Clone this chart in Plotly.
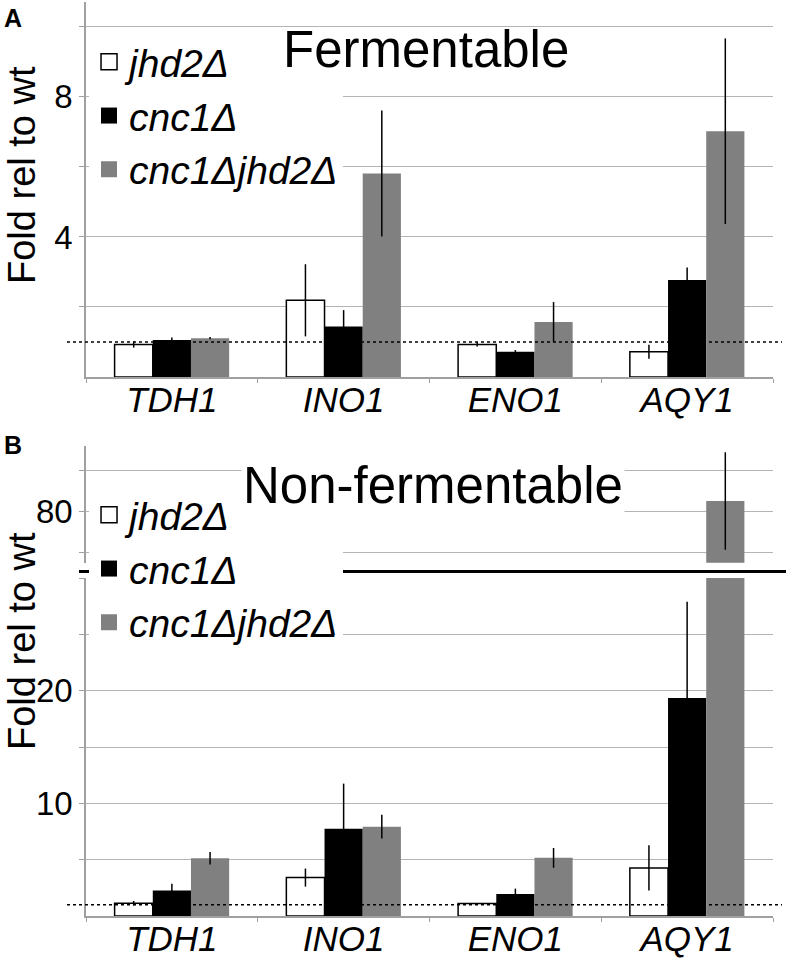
import plotly.graph_objects as go

genes = ["TDH1", "INO1", "ENO1", "AQY1"]
strains = ["jhd2Δ", "cnc1Δ", "cnc1Δjhd2Δ"]
colors = ["white", "black", "#808080"]

# Panel A: fermentable
ferm_vals = [
    [0.93, 2.19, 0.93, 0.72],
    [1.06, 1.44, 0.72, 2.77],
    [1.11, 5.81, 1.57, 7.02],
]
ferm_err = [
    [0.09, 1.03, 0.06, 0.20],
    [0.07, 0.47, 0.05, 0.36],
    [0.03, 1.80, 0.57, 2.65],
]

# Panel B: non-fermentable
nonferm_vals = [
    [1.13, 3.41, 1.10, 4.27],
    [2.26, 7.75, 1.96, 19.35],
    [5.13, 7.93, 5.16, 82.6],
]
nonferm_err = [
    [0.20, 0.80, 0.05, 2.00],
    [0.60, 4.00, 0.47, 8.55],
    [0.55, 1.05, 0.88, 11.9],
]

yA_ticks = [2, 4, 6, 8, 10]
yA_text = ["", "4", "", "8", ""]
yB_ticks = [5, 10, 15, 20, 25, 30]
yB_text = ["", "10", "", "20", "", ""]
yBu_ticks = [70, 80, 90]
yBu_text = ["", "80", ""]

FONT = "Liberation Sans, Arial, sans-serif"
GRID = "#b4b4b4"
AXC = "#a0a0a0"

fig = go.Figure()


def add_bars(vals, errs, xa, ya):
    for i in range(3):
        fig.add_trace(go.Bar(
            x=genes, y=vals[i], xaxis=xa, yaxis=ya, showlegend=False,
            marker=dict(color=colors[i],
                        line=dict(color="black" if i == 0 else colors[i], width=1.5 if i == 0 else 0)),
            error_y=dict(type="data", array=errs[i], color="black", thickness=1.5, width=0),
        ))


add_bars(ferm_vals, ferm_err, "x", "y")
add_bars(nonferm_vals, nonferm_err, "x2", "y2")
add_bars(nonferm_vals, nonferm_err, "x3", "y3")

# legend entries
for lg, xa, ya in [("legend", "x", "y"), ("legend2", "x2", "y2")]:
    for i in range(3):
        fig.add_trace(go.Scatter(
            x=[None], y=[None], xaxis=xa, yaxis=ya, mode="markers", name=strains[i],
            legend=lg,
            marker=dict(symbol="square", size=18, color=colors[i],
                        line=dict(color="black" if i == 0 else colors[i], width=1.5 if i == 0 else 0)),
        ))

H = 916.0


def py(px):
    return (H - px) / H


xcommon = dict(type="category", categoryorder="array", categoryarray=genes, automargin=False,
               showline=True, linecolor=AXC, linewidth=1.5, ticks="outside", tickson="boundaries",
               ticklen=4, tickcolor=AXC, showgrid=False, ticklabelstandoff=-9,
               tickfont=dict(family=FONT, size=35, color="black", style="italic"))
ycommon = dict(showgrid=True, gridcolor=GRID, gridwidth=1.2, showline=True, linecolor=AXC,
               linewidth=1.5, ticks="outside", ticklen=5, tickcolor=AXC, zeroline=False,
               automargin=False,
               tickfont=dict(family=FONT, size=33, color="black"), tickmode="array")

fig.update_layout(
    width=789, height=961, autosize=False,
    margin=dict(l=86, r=16, t=0, b=45, autoexpand=False),
    paper_bgcolor="white", plot_bgcolor="white",
    barmode="group", bargap=0.333, bargroupgap=0,
    font=dict(family=FONT, color="black"),
    xaxis=dict(domain=[0, 1], anchor="y", **xcommon),
    yaxis=dict(domain=[py(377), py(2)], range=[0, 10.71], tickvals=yA_ticks, ticktext=yA_text, **ycommon),
    xaxis2=dict(domain=[0, 1], anchor="y2", **xcommon),
    yaxis2=dict(domain=[0, py(578)], range=[0, 30], tickvals=yB_ticks, ticktext=yB_text, **ycommon),
    xaxis3=dict(domain=[0, 1], anchor="y3", type="category", categoryorder="array",
                categoryarray=genes, visible=False, automargin=False),
    yaxis3=dict(domain=[py(562.7), py(446)], range=[67.56, 96], tickvals=yBu_ticks, ticktext=yBu_text,
                **ycommon),
    legend=dict(x=0.0044, xanchor="left", y=py(30), yanchor="top", bgcolor="white",
                font=dict(family=FONT, size=39, color="black", style="italic"),
                itemsizing="trace", borderwidth=0, tracegroupgap=0),
    legend2=dict(x=0.0044, xanchor="left", y=py(483), yanchor="top", bgcolor="white",
                 font=dict(family=FONT, size=39, color="black", style="italic"),
                 itemsizing="trace", borderwidth=0, tracegroupgap=0),
)

W0, W1 = 86.0, 773.0


def pxx(px):
    return (px - W0) / (W1 - W0)


shapes = [
    dict(type="line", xref="paper", yref="y", x0=pxx(67), x1=pxx(782), y0=1, y1=1,
         line=dict(color="black", width=1.5, dash="dot"), layer="above"),
    dict(type="line", xref="paper", yref="y2", x0=pxx(67), x1=pxx(782), y0=1, y1=1,
         line=dict(color="black", width=1.5, dash="dot"), layer="above"),
    dict(type="line", xref="paper", yref="paper", x0=pxx(79), x1=pxx(786), y0=py(571.5), y1=py(571.5),
         line=dict(color="black", width=3), layer="above"),
]
fig.update_layout(shapes=shapes)


def ann(text, x, y, size, **kw):
    return dict(text=text, x=pxx(x), y=py(y), xref="paper", yref="paper", showarrow=False,
                xanchor="center", yanchor="middle",
                font=dict(family=FONT, size=size, color="black"), **kw)


annotations = [
    ann("Fermentable", 426, 50, 51),
    ann("Non-fermentable", 433, 486, 51, bgcolor="white"),
    ann("Fold rel to wt", 22, 175, 38, textangle=-90),
    ann("Fold rel to wt", 22, 641, 38, textangle=-90),
    ann("<b>A</b>", 13, 18, 25),
    ann("<b>B</b>", 13, 445, 25),
]
fig.update_layout(annotations=annotations)

fig.write_html("out.html", config={"displayModeBar": False},
               post_script="document.body.style.margin='0px';")
